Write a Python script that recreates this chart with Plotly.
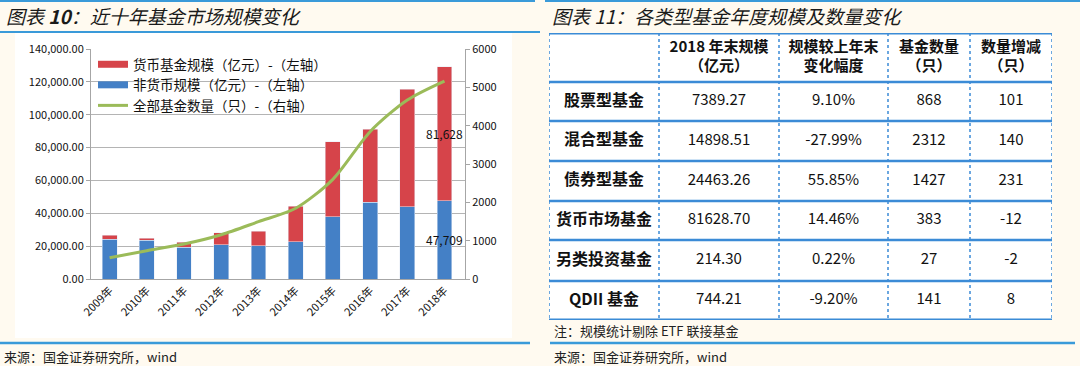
import plotly.graph_objects as go

# ---------------- data: left chart ----------------
years = ["2009年", "2010年", "2011年", "2012年", "2013年", "2014年", "2015年", "2016年", "2017年", "2018年"]
non_money = [24150, 23700, 19300, 20900, 20300, 22700, 37900, 46700, 44000, 47709]
money = [2600, 1250, 3200, 7300, 8900, 21700, 45500, 44400, 71400, 81628]
fund_count = [556, 738, 913, 1156, 1495, 1844, 2600, 3843, 4670, 5165]
left_ticks = [0, 20000, 40000, 60000, 80000, 100000, 120000, 140000]
right_ticks = [0, 1000, 2000, 3000, 4000, 5000, 6000]
legend_names = ["货币基金规模（亿元）-（左轴）", "非货币规模（亿元）-（左轴）", "全部基金数量（只）-（右轴）"]

# ---------------- data: right table ----------------
header = ["", "2018 年末规模<br>（亿元）", "规模较上年末<br>变化幅度", "基金数量<br>（只）", "数量增减<br>（只）"]
fund_types = ["股票型基金", "混合型基金", "债券型基金", "货币市场基金", "另类投资基金", "QDII 基金"]
scale_2018 = ["7389.27", "14898.51", "24463.26", "81628.70", "214.30", "744.21"]
scale_change = ["9.10%", "-27.99%", "55.85%", "14.46%", "0.22%", "-9.20%"]
fund_num = ["868", "2312", "1427", "383", "27", "141"]
num_change = ["101", "140", "231", "-12", "-2", "8"]

# ---------------- styles ----------------
RED = "#D6444A"
BLUE = "#4480C6"
GREEN = "#9BBB59"
LINEBLUE = "#3A9AD9"
TBLUE = "#3B8BD6"
CREAM = "#FFFAF0"
FONT = "Noto Sans CJK SC"
W, H = 1080, 366

def py(pix):  # pixel row -> paper y
    return 1 - pix / H

def px(pix):
    return pix / W

fig = go.Figure()

# bars
fig.add_trace(go.Bar(x=years, y=non_money, marker_color=BLUE, width=0.4,
                     showlegend=False, hoverinfo="skip"))
fig.add_trace(go.Bar(x=years, y=money, marker_color=RED, width=0.4,
                     showlegend=False, hoverinfo="skip"))
fig.add_trace(go.Scatter(x=years, y=fund_count, yaxis="y2", mode="lines",
                         line=dict(color=GREEN, width=3, shape="spline", smoothing=0.8),
                         showlegend=False, hoverinfo="skip"))
# legend entries
for nm, col, wd in zip(legend_names, [RED, BLUE, GREEN], [7, 7, 3]):
    fig.add_trace(go.Scatter(x=[None], y=[None], mode="lines", name=nm,
                             line=dict(color=col, width=wd)))

# ---------------- table as text traces on its own axes ----------------
col_edges = [549, 659, 779, 888, 970, 1052]
row_edges = [33, 82, 121, 161, 201, 240, 281, 320]
col_c = [(col_edges[i] + col_edges[i + 1]) / 2 for i in range(5)]
row_c = [(row_edges[i] + row_edges[i + 1]) / 2 for i in range(7)]

fig.add_trace(go.Scatter(x=col_c[1:], y=[row_c[0]] * 4, mode="text", text=header[1:],
                         textfont=dict(size=15, color="#111", family=FONT, weight="bold"),
                         xaxis="x2", yaxis="y3", showlegend=False, hoverinfo="skip"))
fig.add_trace(go.Scatter(x=[col_c[0]] * 6, y=row_c[1:], mode="text", text=fund_types,
                         textfont=dict(size=16, color="#111", family=FONT, weight="bold"),
                         xaxis="x2", yaxis="y3", showlegend=False, hoverinfo="skip"))
for ci, col in enumerate([scale_2018, scale_change, fund_num, num_change], start=1):
    fig.add_trace(go.Scatter(x=[col_c[ci]] * 6, y=row_c[1:], mode="text", text=col,
                             textfont=dict(size=15, color="#111", family=FONT),
                             xaxis="x2", yaxis="y3", showlegend=False, hoverinfo="skip"))

shapes = []
# white chart box
shapes.append(dict(type="rect", xref="paper", yref="paper", x0=px(15), x1=px(512),
                   y0=py(338), y1=py(33), fillcolor="white", line_width=0, layer="below"))
# decorative blue rules
for (x0, x1, y, wd) in [(0, 535, 1, 2), (0, 540, 32, 2), (0, 530, 343, 2.5),
                        (545, 1080, 1, 2), (550, 1075, 343, 2.5)]:
    shapes.append(dict(type="line", xref="paper", yref="paper", x0=px(x0), x1=px(x1),
                       y0=py(y), y1=py(y), line=dict(color=LINEBLUE, width=wd)))
# table lines
for i, r in enumerate(row_edges):
    x1v = 1062 if i == 0 else col_edges[-1]
    shapes.append(dict(type="line", xref="x2", yref="y3", x0=col_edges[0], x1=x1v, y0=r, y1=r,
                       line=dict(color=TBLUE, width=3 if i in (0, len(row_edges) - 1) else 2.5)))
for c in col_edges:
    shapes.append(dict(type="line", xref="x2", yref="y3", x0=c, x1=c, y0=row_edges[0], y1=row_edges[-1],
                       line=dict(color=TBLUE, width=1.5, dash="dot")))

annotations = [
    # data labels for the last year
    dict(x=years[-1], y=non_money[-1] / 2, text=f"{non_money[-1]:,}", xref="x", yref="y",
         showarrow=False, font=dict(size=12, color="#111", family=FONT)),
    dict(x=years[-1], y=non_money[-1] + money[-1] / 2, text=f"{money[-1]:,}", xref="x", yref="y",
         showarrow=False, font=dict(size=12, color="#111", family=FONT)),
    dict(xref="paper", yref="paper", x=px(4), y=py(15), xanchor="left", yanchor="middle",
         text="<i>图表 <b>10</b>：近十年基金市场规模变化</i>", showarrow=False,
         font=dict(size=19, color="#1a1a1a", family=FONT)),
    dict(xref="paper", yref="paper", x=px(550), y=py(15), xanchor="left", yanchor="middle",
         text="<i>图表 11：各类型基金年度规模及数量变化</i>", showarrow=False,
         font=dict(size=19, color="#1a1a1a", family=FONT)),
    dict(xref="paper", yref="paper", x=px(552), y=py(330), xanchor="left", yanchor="middle",
         text="注：规模统计剔除 ETF 联接基金", showarrow=False,
         font=dict(size=13, color="#222", family=FONT)),
    dict(xref="paper", yref="paper", x=px(2), y=py(356), xanchor="left", yanchor="middle",
         text="来源：国金证券研究所，wind", showarrow=False,
         font=dict(size=13, color="#222", family=FONT)),
    dict(xref="paper", yref="paper", x=px(552), y=py(356), xanchor="left", yanchor="middle",
         text="来源：国金证券研究所，wind", showarrow=False,
         font=dict(size=13, color="#222", family=FONT)),
]

fig.update_layout(
    width=W, height=H, margin=dict(l=0, r=0, t=0, b=0, autoexpand=False),
    paper_bgcolor=CREAM, plot_bgcolor="white",
    barmode="stack", font=dict(family=FONT, color="#111"),
    xaxis=dict(domain=[px(91), px(465)], anchor="y", tickangle=-45, automargin=False,
               tickfont=dict(size=11, color="#111"), showline=True, linecolor="#A6A6A6",
               ticks="", fixedrange=True),
    yaxis=dict(domain=[py(279), py(49)], range=[0, 140000], tickvals=left_ticks,
               tickformat=",.2f", tickfont=dict(size=11, color="#111"), automargin=False,
               showgrid=True, gridcolor="#B4B4B4", gridwidth=1, zeroline=False,
               showline=True, linecolor="#A6A6A6", ticks="outside", ticklen=4,
               tickcolor="#A6A6A6", fixedrange=True),
    yaxis2=dict(overlaying="y", side="right", anchor="x", range=[0, 6000], tickvals=right_ticks,
                tickfont=dict(size=11, color="#111"), showgrid=False, zeroline=False,
                automargin=False, showline=True, linecolor="#A6A6A6", ticks="outside",
                ticklen=4, tickcolor="#A6A6A6", fixedrange=True),
    xaxis2=dict(domain=[px(549), px(1052)], range=[549, 1052], anchor="y3", visible=False,
                automargin=False, fixedrange=True),
    yaxis3=dict(domain=[py(320), py(33)], range=[320, 33], anchor="x2", visible=False,
                automargin=False, fixedrange=True),
    legend=dict(x=px(93), y=py(49), xanchor="left", yanchor="top", bgcolor="rgba(0,0,0,0)",
                font=dict(size=13.5, color="#111", family=FONT), tracegroupgap=0,
                traceorder="normal", itemclick=False, itemdoubleclick=False),
    shapes=shapes, annotations=annotations, bargap=0.6,
)

fig.write_html("out.html", post_script="document.body.style.margin='0';",
               config={"displayModeBar": False})
